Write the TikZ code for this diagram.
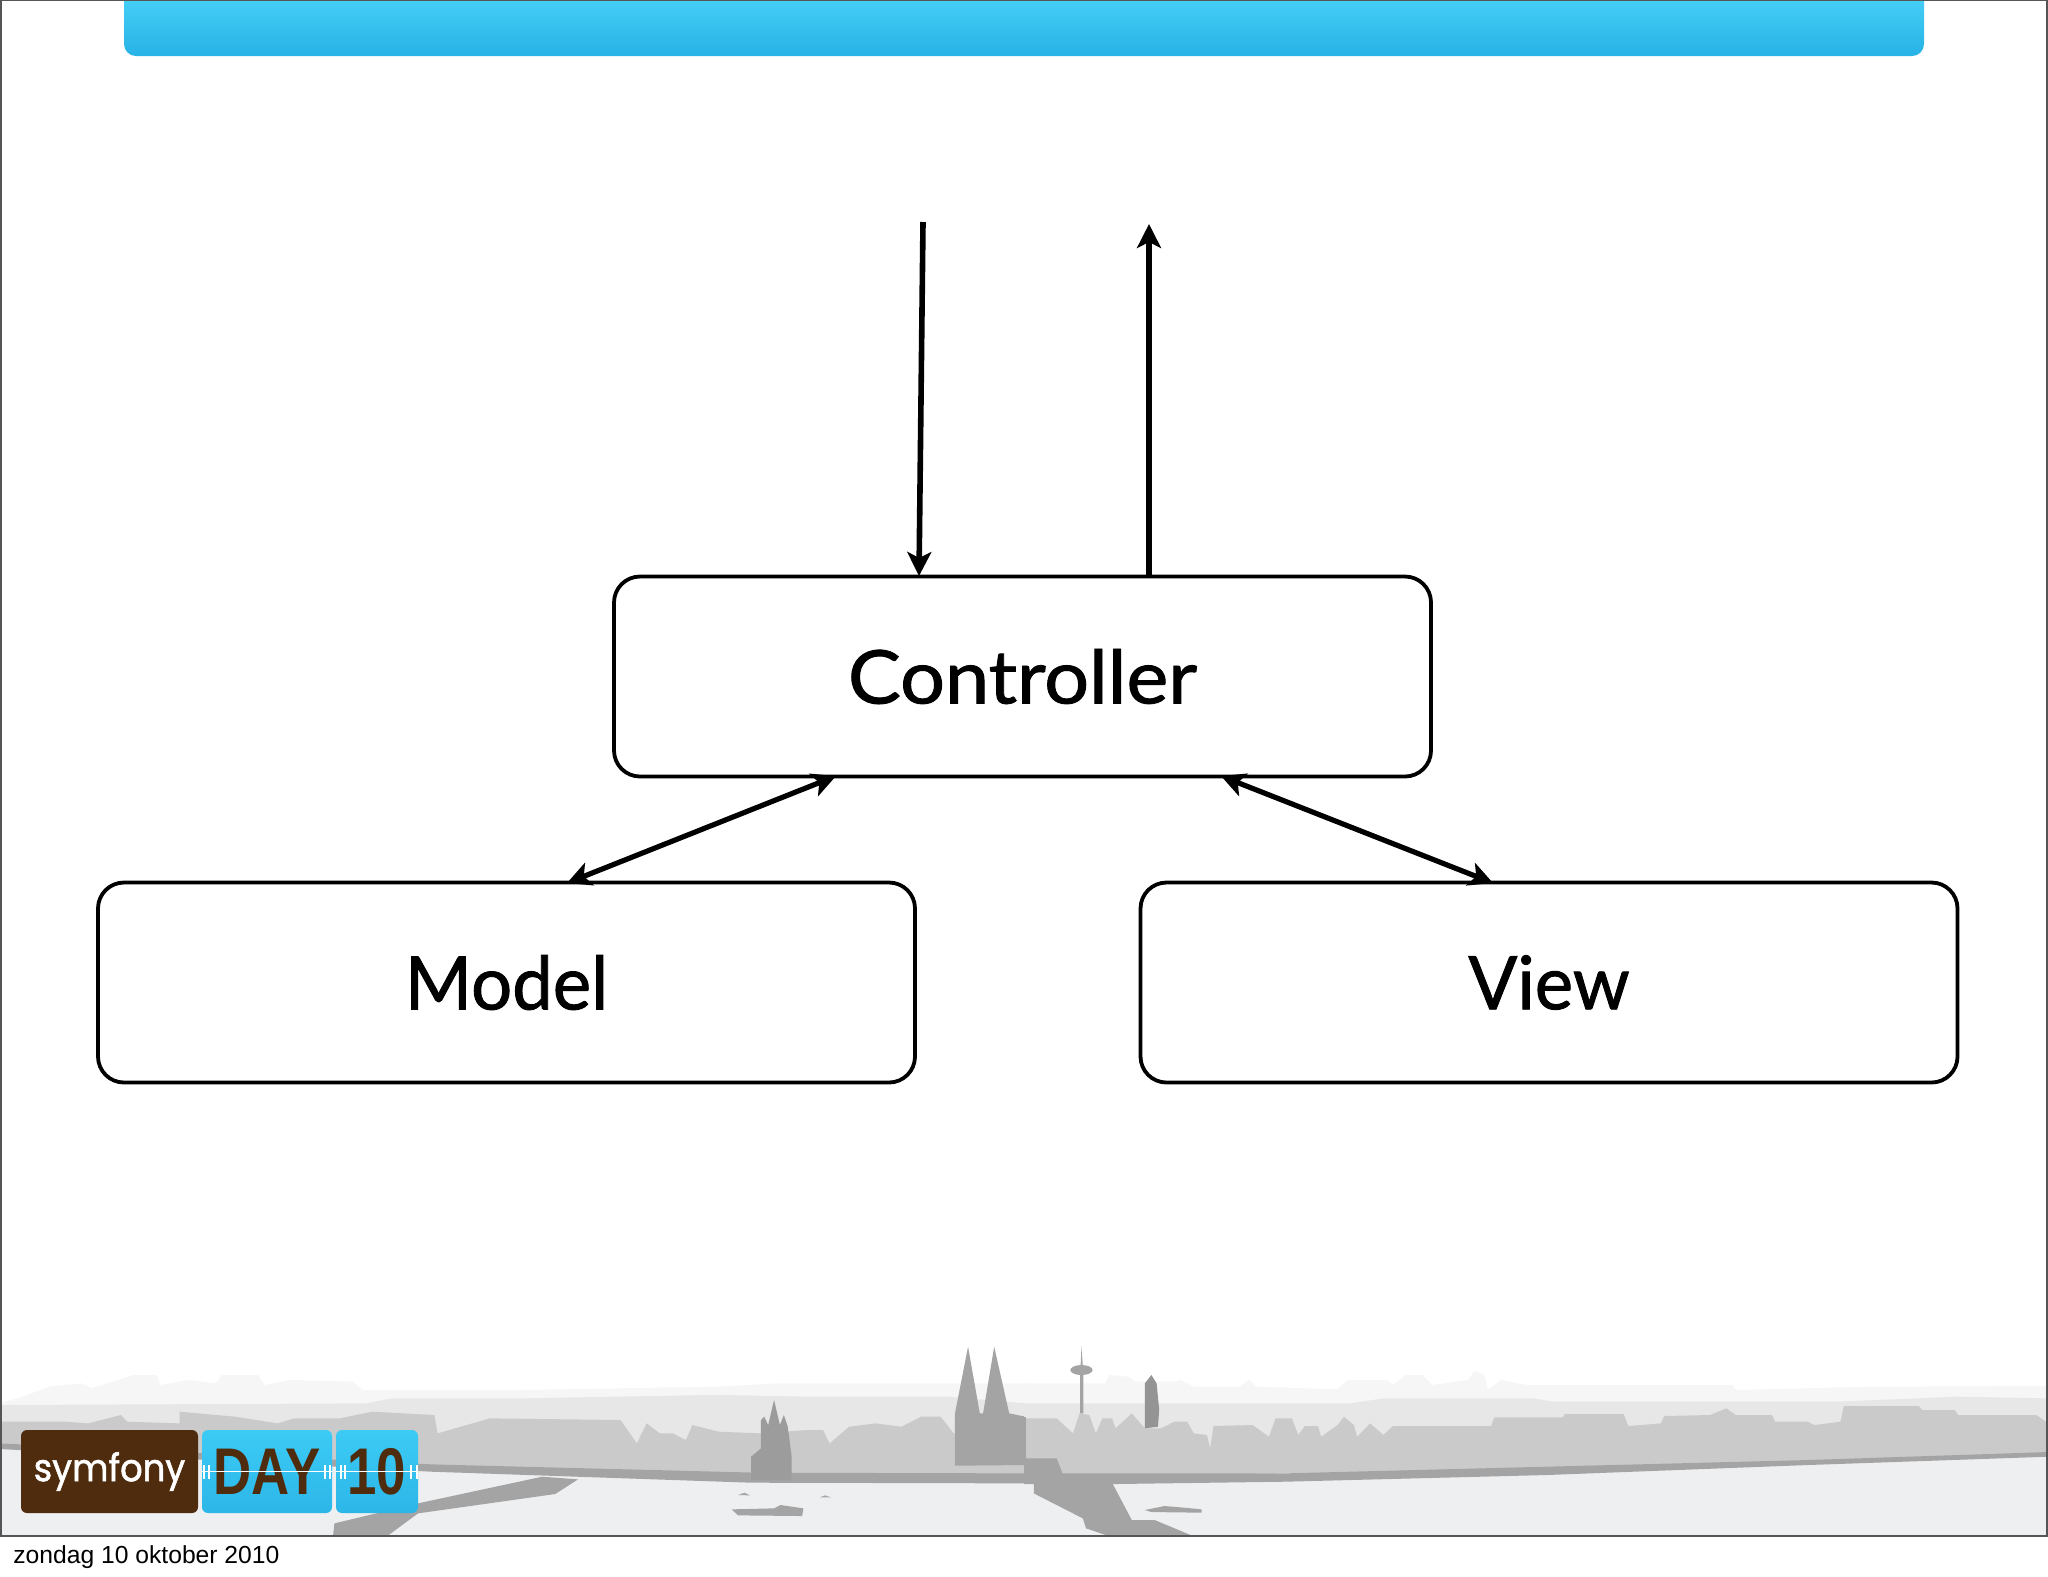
\documentclass[tikz,border=0pt]{standalone}
\usepackage{fontspec}
\usetikzlibrary{arrows.meta}
\setmainfont{Lato}
\newfontfamily\labelfont[FakeBold=1.2]{Lato}
\newfontfamily\datefont{Liberation Sans}
\newfontfamily\logofont[FakeBold=1.5]{Poppins}
\definecolor{framegrey}{HTML}{555555}
\definecolor{hazegrey}{HTML}{F6F6F7}
\definecolor{midgrey}{HTML}{E7E7E8}
\definecolor{maingrey}{HTML}{CACACB}
\definecolor{darkgrey}{HTML}{A4A4A5}
\definecolor{watergrey}{HTML}{EEEFF0}
\definecolor{logobrown}{HTML}{4F2C0E}
\definecolor{logoblueA}{HTML}{3CCBF5}
\definecolor{logoblueB}{HTML}{2CB6E8}
\definecolor{barblueA}{HTML}{4FD7FB}
\definecolor{barblueB}{HTML}{27B2E6}
\tikzset{
  mvcbox/.style={draw=black,line width=1.9pt,fill=white,rounded corners=13pt,minimum width=408.5pt,minimum height=100pt,inner sep=0pt,outer sep=0pt,font=\labelfont\fontsize{37}{40}\selectfont},
  flow/.style={draw=black,line width=2.8pt,-{Stealth[length=12pt,width=12pt,inset=3pt]}},
  bothflow/.style={draw=black,line width=2.6pt,{Stealth[length=12pt,width=12pt,inset=3pt]}-{Stealth[length=12pt,width=12pt,inset=3pt]}},
  logobox/.style={rounded corners=3pt,minimum height=41.5pt,inner sep=0pt,outer sep=0pt},
  bluelogo/.style={logobox,top color=logoblueA,bottom color=logoblueB,text=logobrown}
}
\begin{document}
\begin{tikzpicture}[x=0.5pt,y=-0.5pt]
\useasboundingbox (0,0) rectangle (2048,1576);
\fill[white] (0,0) rectangle (2048,1576);
% top bar
\shade[top color=barblueA,bottom color=barblueB,rounded corners=6pt] (124,-20) -- (124,56) -- (1924,56) -- (1924,-20) -- cycle;
% skyline: left half, in zoom units
\begin{scope}[shift={(0,1300)},x=0.3266pt,y=-0.16667pt]
\fill[hazegrey] (0,310) -- (35,290) -- (75,260) -- (125,250) -- (140,265) -- (205,225) -- (240,225) -- (245,255) -- (290,240) -- (330,250) -- (340,225) -- (395,225) -- (405,255) -- (445,240) -- (540,245) -- (555,270) -- (800,270) -- (1100,260) -- (1190,250) -- (1570,250) -- (1570,520) -- (0,520) -- cycle;
\fill[midgrey] (0,315) -- (560,310) -- (600,295) -- (800,295) -- (1080,285) -- (1105,285) -- (1240,290) -- (1450,290) -- (1570,310) -- (1570,520) -- (0,520) -- cycle;
\fill[maingrey] (0,430) -- (0,365) -- (100,365) -- (135,370) -- (185,345) -- (195,365) -- (275,370) -- (275,335) -- (360,350) -- (425,370) -- (450,355) -- (520,355) -- (570,335) -- (665,345) -- (670,400) -- (750,355) -- (950,360) -- (975,430) -- (990,370) -- (1010,400) -- (1030,400) -- (1050,420) -- (1060,375) -- (1100,395) -- (1165,400) -- (1235,390) -- (1260,390) -- (1270,430) -- (1300,380) -- (1340,370) -- (1380,380) -- (1410,350) -- (1440,350) -- (1460,400) -- (1570,400) -- (1570,530) -- (640,510) -- cycle;
\fill[watergrey] (0,440) -- (660,505) -- (1570,535) -- (1570,705) -- (0,705) -- cycle;
\fill[darkgrey] (0,430) -- (660,493) -- (1160,518) -- (1570,520) -- (1570,550) -- (1150,548) -- (660,515) -- (0,447) -- cycle;
\fill[darkgrey] (830,530) -- (885,538) -- (850,582) -- (640,640) -- (595,705) -- (510,705) -- (512,670) -- (640,610) -- cycle;
\fill[darkgrey!95!black] (1150,540) -- (1150,470) -- (1165,445) -- (1165,360) -- (1170,350) -- (1176,375) -- (1185,300) -- (1194,375) -- (1200,345) -- (1206,380) -- (1212,470) -- (1212,540) -- cycle;
\fill[darkgrey] (1462,497) -- (1462,340) -- (1482,140) -- (1500,340) -- (1505,340) -- (1522,140) -- (1545,340) -- (1570,350) -- (1570,495) -- cycle;
\fill[darkgrey] (1120,628) -- (1185,625) -- (1195,615) -- (1230,625) -- (1228,648) -- (1130,646) -- cycle;
\fill[darkgrey] (1130,585) -- (1140,578) -- (1148,586) -- cycle;
\fill[darkgrey] (1255,592) -- (1263,586) -- (1272,592) -- cycle;
\end{scope}
% skyline: right half, in zoom units
\begin{scope}[shift={(1024,1300)},x=0.3266pt,y=-0.16667pt]
\fill[hazegrey] (0,250) -- (125,250) -- (130,225) -- (160,230) -- (170,245) -- (230,245) -- (240,240) -- (260,260) -- (330,260) -- (345,238) -- (355,260) -- (480,268) -- (495,240) -- (555,240) -- (565,255) -- (585,225) -- (610,225) -- (625,255) -- (680,240) -- (690,212) -- (705,225) -- (710,270) -- (730,240) -- (770,255) -- (1085,255) -- (1090,270) -- (1300,260) -- (1568,258) -- (1568,470) -- (0,520) -- cycle;
\fill[midgrey] (0,310) -- (500,310) -- (550,295) -- (780,295) -- (810,305) -- (1240,305) -- (1430,290) -- (1568,295) -- (1568,470) -- (0,520) -- cycle;
\fill[maingrey] (0,355) -- (50,355) -- (75,400) -- (85,340) -- (100,345) -- (110,400) -- (120,355) -- (135,355) -- (140,385) -- (165,340) -- (185,385) -- (210,385) -- (230,365) -- (250,365) -- (260,400) -- (280,405) -- (285,445) -- (290,378) -- (350,375) -- (375,410) -- (385,355) -- (410,355) -- (420,405) -- (430,378) -- (450,378) -- (455,410) -- (480,375) -- (490,350) -- (505,375) -- (510,410) -- (530,370) -- (550,405) -- (565,378) -- (715,378) -- (720,352) -- (825,352) -- (828,342) -- (918,342) -- (925,378) -- (975,370) -- (980,348) -- (1050,345) -- (1075,325) -- (1090,345) -- (1145,345) -- (1150,365) -- (1200,365) -- (1210,375) -- (1250,365) -- (1255,318) -- (1370,318) -- (1375,330) -- (1425,330) -- (1430,345) -- (1550,345) -- (1568,370) -- (1568,465) -- (800,510) -- (0,530) -- cycle;
\fill[watergrey] (0,540) -- (400,540) -- (800,520) -- (1200,490) -- (1568,465) -- (1568,705) -- (0,705) -- cycle;
\fill[darkgrey] (0,520) -- (400,520) -- (800,500) -- (1200,480) -- (1568,456) -- (1568,470) -- (1200,495) -- (800,525) -- (400,545) -- (140,552) -- (0,552) -- cycle;
\fill[darkgrey] (0,475) -- (50,475) -- (60,525) -- (130,530) -- (165,660) -- (200,660) -- (255,705) -- (125,705) -- (95,685) -- (90,655) -- (15,580) -- (15,550) -- (0,550) -- cycle;
\fill[darkgrey] (0,350) -- (3,350) -- (3,510) -- (0,510) -- cycle;
\fill[darkgrey] (86,340) -- (86,225) -- (88,140) -- (91,225) -- (91,340) -- cycle;
\fill[darkgrey] (88,210) ellipse [x radius=17,y radius=15];
\fill[darkgrey!90!black] (185,385) -- (185,250) -- (195,225) -- (203,250) -- (207,330) -- (205,380) -- cycle;
\fill[darkgrey] (185,630) -- (215,618) -- (240,622) -- (272,628) -- (272,638) -- (195,636) -- cycle;
\end{scope}
% slide frame
\draw[framegrey,line width=1.2pt] (1,-2) -- (1,1536) -- (2047,1536) -- (2047,-2);
\draw[framegrey,line width=.6pt] (0,.5) -- (2048,.5);
% logo
\node[logobox,fill=logobrown,minimum width=88.5pt,text=white,font=\logofont\fontsize{19}{20}\selectfont] (sym) at (109.5,1471.5) {\raisebox{-1.5pt}{\scalebox{.93}[1]{symfony}}};
\node[bluelogo,minimum width=65pt,font=\datefont\bfseries\fontsize{33}{33}\selectfont] (day) at (267,1471.5) {\scalebox{.8}[1]{DAY}};
\node[bluelogo,minimum width=41pt,font=\datefont\bfseries\fontsize{33}{33}\selectfont] (ten) at (377,1471.5) {\scalebox{.8}[1]{10}};
\draw[white,line width=.7pt] (day.west) -- (day.east) (ten.west) -- (ten.east);
\foreach \tx in {204,209,325,330,341,345,411,417} \draw[white,line width=.9pt] (\tx,1465) -- (\tx,1479);
% date
\node[anchor=base west,inner sep=0pt,font=\datefont\fontsize{12.33}{14}\selectfont] (date) at (13,1563) {zondag 10 oktober 2010};
% boxes
\node[mvcbox] (ctrl) at (1022.5,676.5) {\raisebox{-2.5pt}{\scalebox{1.07}[1]{Controller}}};
\node[mvcbox] (model) at (506.5,982.5) {\raisebox{-2pt}{\scalebox{.98}[1]{Model}}};
\node[mvcbox] (view) at (1549,982.5) {\raisebox{-2pt}{\scalebox{.98}[1]{View}}};
% connectors
\coordinate (reqstart) at (923,222);
\coordinate (reqend) at (919,576);
\coordinate (respstart) at (1149,576);
\coordinate (respend) at (1149,224);
\coordinate (cl) at (836,776);
\coordinate (ml) at (567,883);
\coordinate (cr) at (1221,776);
\coordinate (vr) at (1493,883);
\draw[flow] (reqstart) -- (reqend);
\draw[flow] (respstart) -- (respend);
\draw[bothflow] (ml) -- (cl);
\draw[bothflow] (cr) -- (vr);
\end{tikzpicture}
\end{document}
